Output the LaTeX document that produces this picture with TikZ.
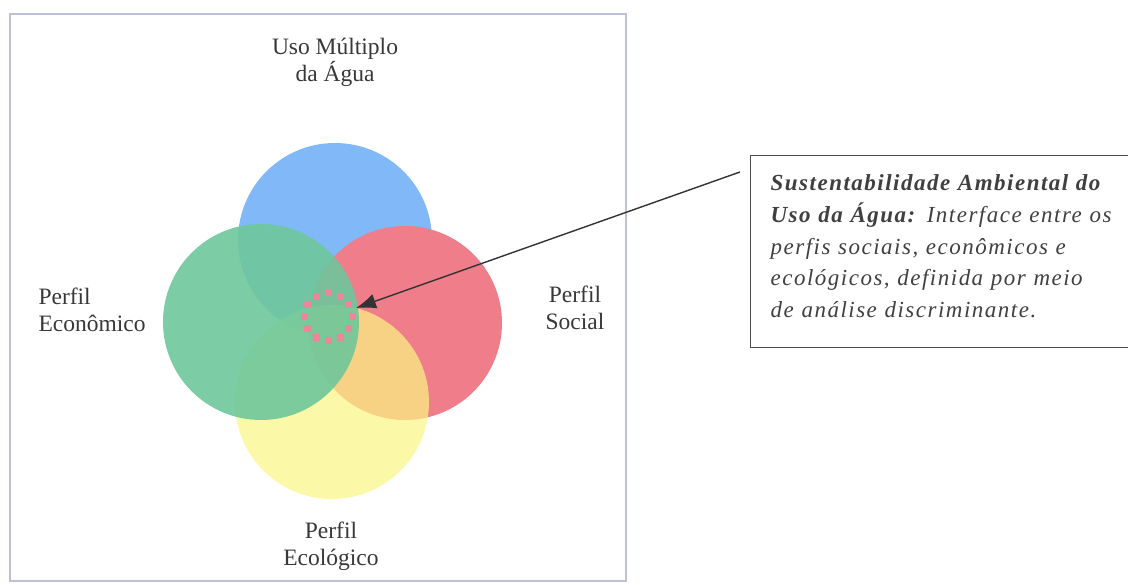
\documentclass[tikz,border=0pt]{standalone}
\usepackage{fontspec}
\setmainfont{Liberation Serif}
\newfontfamily\notefont[LetterSpace=6.5]{Liberation Serif}
\usetikzlibrary{arrows.meta}

\definecolor{usoblue}{RGB}{128,184,248}
\definecolor{socialred}{RGB}{240,125,138}
\definecolor{econgreen}{RGB}{110,199,155}
\definecolor{ecoyellow}{RGB}{250,245,130}
\definecolor{ringpink}{RGB}{240,132,155}
\definecolor{framegray}{RGB}{190,192,215}

\begin{document}
\begin{tikzpicture}[x=1pt,y=-1pt]
\newcommand{\ringradius}{97}
\newcommand{\labelfont}{\fontsize{23.5}{27}\selectfont}
\newcommand{\inkcolor}{black!78}

\tikzset{every path/.style={line width=1 pt}}
\tikzset{profile/.style={font=\labelfont, text=\inkcolor, inner sep=0pt},
         notebox/.style={draw=black!70, line width=1.3pt, anchor=north west,
           minimum height=192pt, inner xsep=20pt, inner ysep=0pt,
           text width=372pt, align=left, text=black!75,
           font=\notefont\itshape\fontsize{23}{31.7}\selectfont}}

    \useasboundingbox (0,0) rectangle (1128,585);
    \draw[framegray, line width=1.2pt] (10,14) rectangle (626,581);

    % the four circles
    \fill[usoblue] (335,240) circle (\ringradius);
    \fill[socialred] (405,323) circle (\ringradius);
    \fill[ecoyellow, opacity=.7] (332,402) circle (\ringradius);
    \fill[econgreen, opacity=.9] (261,322) circle (98);

    \begin{scope}[shift={(328,317)}]
    \coordinate (core) at (0,0);
    \foreach \a in {0,30,...,330}
        \fill[ringpink] (\a:24) ++(-3.5,-3.5) rectangle ++(7,7);
    \end{scope}

    \node[profile, align=center] (uso) at (335,62) {Uso M\'ultiplo\\da \'Agua};
    \node[profile, align=left, anchor=west] (econ) at (38,310) {Perfil\\Econ\^omico};
    \node[profile, align=center] (social) at (575,308) {Perfil\\Social};
    \node[profile, align=center] (eco) at (331,546) {Perfil\\Ecol\'ogico};

    \node[notebox] (nota) at (750,155) {\textbf{Sustentabilidade Ambiental do}\\
        \textbf{Uso da \'Agua:} Interface entre os\\
        perfis sociais, econ\^omicos e\\
        ecol\'ogicos, definida por meio\\
        de an\'alise discriminante.\rule[-11pt]{0pt}{0pt}};

    \coordinate (tail) at (740,172);
    \coordinate (tip) at (356,308);
    \draw[black!80, line width=1.4pt, -{Latex[length=20pt,width=15pt]}] (tail) -- (tip);
\end{tikzpicture}
\end{document}
